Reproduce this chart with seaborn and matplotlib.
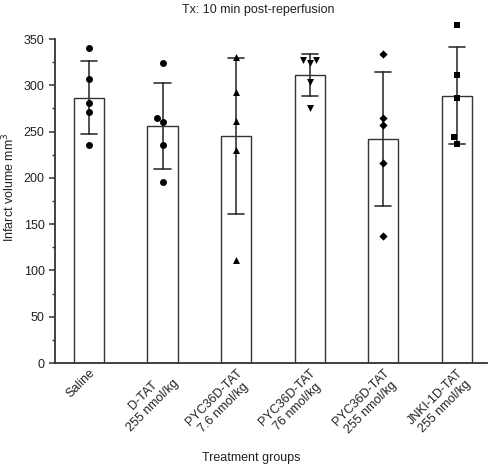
import matplotlib
matplotlib.use("Agg")
import matplotlib.pyplot as plt
import seaborn as sns
import pandas as pd
from matplotlib.ticker import MultipleLocator

groups = ["Saline", "D-TAT\n255 nmol/kg", "PYC36D-TAT\n7.6 nmol/kg",
          "PYC36D-TAT\n76 nmol/kg", "PYC36D-TAT\n255 nmol/kg", "JNKI-1D-TAT\n255 nmol/kg"]
saline = [340, 307, 281, 271, 235]
dtat = [324, 265, 260, 235, 196]
pyc_7_6 = [331, 293, 261, 230, 111]
pyc_76 = [327, 324, 327, 304, 275]
pyc_255 = [334, 265, 257, 216, 137]
jnki = [365, 311, 286, 244, 237]
markers = ["o", "o", "^", "v", "D", "s"]
y_ticks = [0, 50, 100, 150, 200, 250, 300, 350]

series = [saline, dtat, pyc_7_6, pyc_76, pyc_255, jnki]
df = pd.DataFrame({
    "group": [g for g, vals in zip(groups, series) for _ in vals],
    "value": [v for vals in series for v in vals],
})

sns.set_style("white")
plt.rcParams["font.family"] = ["Liberation Sans", "DejaVu Sans"]
FS = 9

fig = plt.figure(figsize=(4.89, 4.69), dpi=100)
ax = fig.add_axes([55/489, 1-363/469, (487-55)/489, (363-39)/469])

sns.barplot(data=df, x="group", y="value", order=groups, errorbar="sd",
            capsize=0.22, width=0.41, color="white", edgecolor="#333333",
            linewidth=1.0, err_kws={"color": "#333333", "linewidth": 1.2}, ax=ax)

for g, m in zip(groups, markers):
    sub = df[df["group"] == g]
    sz = 4.2 if m == "D" else 5
    sns.swarmplot(data=sub, x="group", y="value", order=groups, marker=m,
                  color="black", size=sz, ax=ax, zorder=5)

for coll in ax.collections:
    coll.set_clip_on(False)

ax.set_ylim(0, 350)
ax.set_xlim(-0.462, 5.41)
ax.set_yticks(y_ticks)
ax.yaxis.set_minor_locator(MultipleLocator(25))
ax.tick_params(axis="y", which="major", direction="out", length=4, width=1.1,
               labelsize=FS, left=True, colors="#333333", labelcolor="#222222")
ax.tick_params(axis="y", which="minor", direction="out", length=2.5, width=1.0,
               left=True, colors="#333333")
ax.tick_params(axis="x", length=0, pad=3, labelsize=FS, labelcolor="#222222")
ax.set_xticks(range(len(groups)))
ax.set_xticklabels(groups, rotation=45, ha="right", va="top",
                   rotation_mode="anchor", multialignment="center")

for s in ["top", "right"]:
    ax.spines[s].set_visible(False)
for s in ["left", "bottom"]:
    ax.spines[s].set_linewidth(1.3)
    ax.spines[s].set_color("#333333")

ax.set_xlabel("")
ax.set_ylabel("Infarct volume mm$^3$", fontsize=FS, color="#222222")
ax.yaxis.set_label_coords(-0.088, 0.543)
fig.text(251/489, 1-458/469, "Treatment groups", ha="center", va="center",
         fontsize=FS, color="#222222")
fig.text(258/489, 1-10/469, "Tx: 10 min post-reperfusion", ha="center", va="center",
         fontsize=FS, color="#222222")

fig.savefig("out.png", dpi=100)
